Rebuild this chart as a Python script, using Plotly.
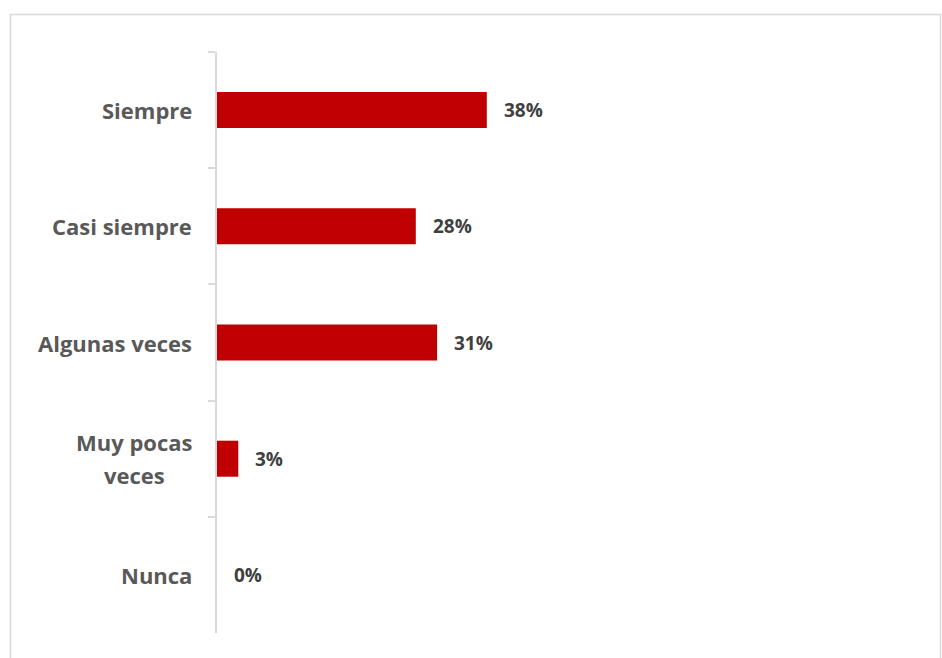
import plotly.graph_objects as go

# Survey response frequencies
categories = ["Siempre", "Casi siempre", "Algunas veces", "Muy pocas veces", "Nunca"]
label_lines = [["Siempre"], ["Casi siempre"], ["Algunas veces"], ["Muy pocas", "veces"], ["Nunca"]]
percentages = [38, 28, 31, 3, 0]

BAR_COLOR = "#C00000"
AXIS_COLOR = "#D9D9D9"
LABEL_COLOR = "#595959"
VALUE_COLOR = "#404040"
FONT = "'Open Sans', sans-serif"

PLOT_LEFT, PLOT_WIDTH = 217, 710

fig = go.Figure()
fig.add_trace(go.Bar(
    x=percentages,
    y=categories,
    orientation="h",
    marker=dict(color=BAR_COLOR, line=dict(width=0)),
    width=0.31,
    hoverinfo="skip",
))

# value labels to the right of each bar
for cat, val in zip(categories, percentages):
    fig.add_annotation(
        x=val, y=cat, xref="x", yref="y",
        text=f"<b>{val}%</b>", showarrow=False,
        xanchor="left", xshift=15,
        font=dict(family=FONT, size=19, color=VALUE_COLOR),
    )

# category labels left of the axis; wrapped labels are centred line by line
LINE_GAP = 33
for cat, lines in zip(categories, label_lines):
    if len(lines) == 1:
        fig.add_annotation(
            x=0, y=cat, xref="paper", yref="y",
            text=f"<b>{lines[0]}</b>", showarrow=False,
            xanchor="right", xshift=-23,
            font=dict(family=FONT, size=22, color=LABEL_COLOR),
        )
    else:
        n = len(lines)
        for i, line in enumerate(lines):
            fig.add_annotation(
                x=(134 - PLOT_LEFT) / PLOT_WIDTH, y=cat, xref="paper", yref="y",
                text=f"<b>{line}</b>", showarrow=False,
                xanchor="center", yshift=((n - 1) / 2 - i) * LINE_GAP,
                font=dict(family=FONT, size=22, color=LABEL_COLOR),
            )

# light frame around the chart area
fig.add_shape(
    type="rect", xref="paper", yref="paper",
    x0=(10.5 - PLOT_LEFT) / PLOT_WIDTH, x1=(940.5 - PLOT_LEFT) / PLOT_WIDTH,
    y0=-0.2, y1=(658 - 14.5 - 25) / 581,
    line=dict(color=AXIS_COLOR, width=1.5), layer="below",
)

fig.update_layout(
    width=942, height=658,
    margin=dict(l=PLOT_LEFT, r=942 - PLOT_LEFT - PLOT_WIDTH, t=52, b=25),
    plot_bgcolor="white", paper_bgcolor="white",
    showlegend=False,
    font=dict(family=FONT),
    xaxis=dict(range=[0, 100], visible=False, fixedrange=True),
    yaxis=dict(
        type="category",
        categoryorder="array", categoryarray=categories,
        autorange="reversed",
        showline=True, linecolor=AXIS_COLOR, linewidth=1.5,
        ticks="outside", ticklen=7, tickcolor=AXIS_COLOR, tickwidth=1.5,
        tickson="boundaries",
        showticklabels=False,
        showgrid=False, zeroline=False,
    ),
)

fig.write_html("out.html")
